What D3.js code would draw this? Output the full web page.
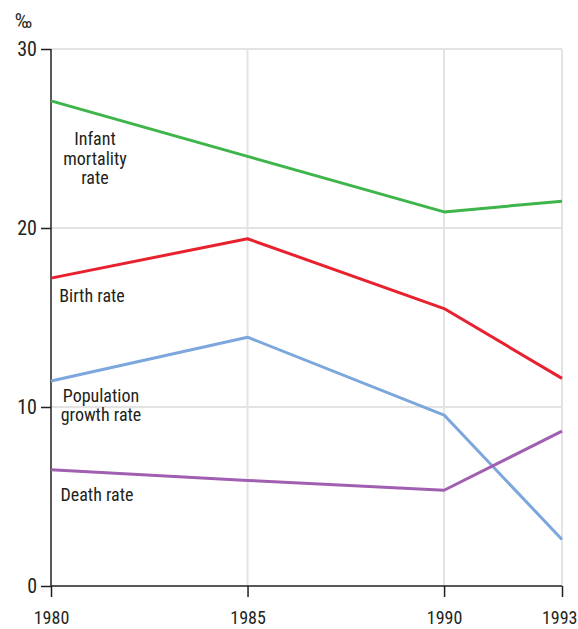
<!DOCTYPE html>
<html><head><meta charset="utf-8">
<script src="https://cdn.jsdelivr.net/npm/d3@7"></script>
<style>body{margin:0;background:#fff}svg{display:block}text{font-family:"Liberation Sans Narrow","Roboto Condensed","Liberation Sans",sans-serif;fill:#231f20}</style>
</head><body><svg id="c" width="578" height="629"></svg>
<script>
const years = [1980, 1985, 1990, 1993];
const infantMortality = [27.1, 24.0, 20.9, 21.5];
const birthRate = [17.2, 19.4, 15.5, 11.6];
const populationGrowth = [11.45, 13.9, 9.55, 2.6];
const deathRate = [6.5, 5.9, 5.35, 8.65];
const yTicks = [0, 10, 20, 30];
const seriesNames = ["Infant mortality rate", "Birth rate", "Population growth rate", "Death rate"];

const series = [
  {name: seriesNames[0], values: infantMortality, color: "#3db54a", label: ["Infant", "mortality", "rate"], lx: 95, ly: 145, lh: 19.5},
  {name: seriesNames[1], values: birthRate, color: "#e8212e", label: ["Birth rate"], lx: 92, ly: 302, lh: 19},
  {name: seriesNames[2], values: populationGrowth, color: "#7ba7dc", label: ["Population", "growth rate"], lx: 101, ly: 402, lh: 19},
  {name: seriesNames[3], values: deathRate, color: "#a05fb0", label: ["Death rate"], lx: 97, ly: 501, lh: 19}
];

const svg = d3.select("#c");
const x = d3.scaleLinear().domain([1980, 1993]).range([51, 562]);
const y = d3.scaleLinear().domain([0, 30]).range([586, 49]);

// grid
svg.append("g").selectAll("line").data(yTicks.filter(d => d > 0)).join("line")
  .attr("x1", 51).attr("x2", 562).attr("y1", d => y(d)).attr("y2", d => y(d))
  .attr("stroke", "#e3e3e3").attr("stroke-width", 2);
svg.append("g").selectAll("line").data(years.filter(d => d > 1980)).join("line")
  .attr("x1", d => x(d)).attr("x2", d => x(d)).attr("y1", 49).attr("y2", 586)
  .attr("stroke", "#e3e3e3").attr("stroke-width", 2);

// y axis
const ya = svg.append("g").attr("transform", "translate(51,0)")
  .call(d3.axisLeft(y).tickValues(yTicks).tickSize(10).tickPadding(4));
ya.select(".domain").attr("stroke", "#231f20").attr("stroke-width", 1.5).attr("d", "M0,49V586");
ya.selectAll(".tick line").attr("stroke", "#231f20").attr("stroke-width", 1.5);
ya.selectAll(".tick text").attr("font-size", 20).style("fill", "#231f20");

// x axis
const xa = svg.append("g").attr("transform", "translate(0,586)")
  .call(d3.axisBottom(x).tickValues(years).tickFormat(d3.format("d")).tickSize(11).tickPadding(0));
xa.select(".domain").attr("stroke", "#231f20").attr("stroke-width", 1.5).attr("d", "M51,0H562");
xa.selectAll(".tick line").attr("stroke", "#231f20").attr("stroke-width", 1.5);
xa.selectAll(".tick text").attr("font-size", 18).attr("dy", null).attr("y", 38).style("fill", "#231f20");
xa.selectAll(".tick text").filter(d => d === years[years.length - 1])
  .attr("text-anchor", "end").attr("x", 15);

svg.append("text").attr("x", 15).attr("y", 28).attr("font-size", 21).text("‰");

const line = d3.line().x((d, i) => x(years[i])).y(d => y(d));
series.forEach(s => {
  svg.append("path").attr("d", line(s.values)).attr("fill", "none")
    .attr("stroke", s.color).attr("stroke-width", 3).attr("stroke-linejoin", "round");
  const t = svg.append("text").attr("text-anchor", "middle").attr("font-size", 18);
  s.label.forEach((l, i) => t.append("tspan").attr("x", s.lx).attr("y", s.ly + i * s.lh).text(l));
});
</script></body></html>
